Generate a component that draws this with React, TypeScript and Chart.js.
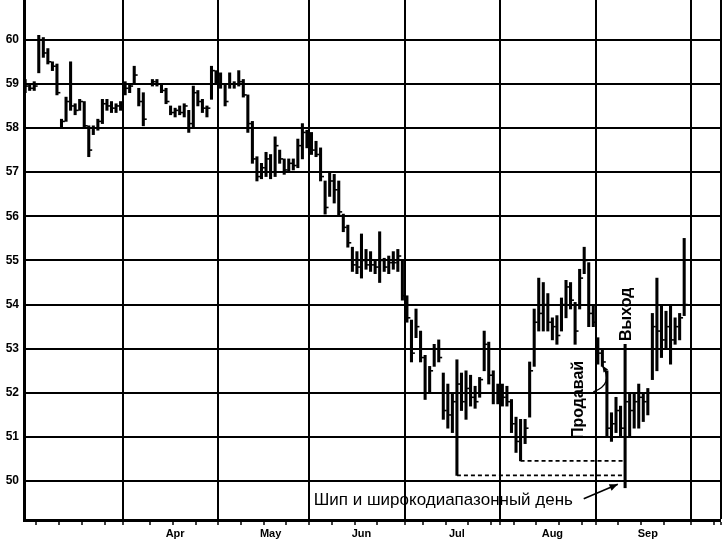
import React, { useEffect, useRef } from 'react';
import { Chart, registerables } from 'chart.js';
Chart.register(...registerables);

// Daily high / low / close (trading-day index = array index; null = no trading)
const highs: (number | null)[] = [
  59.1, 59.0, 59.05, 60.1, 60.05, 59.8, 59.5, 59.45, 58.2, 58.7,
  59.5, 58.55, 58.65, 58.6, 58.05, 58.05, 58.2, 58.65, 58.65, 58.6,
  58.55, 58.6, 59.05, 59.0, 59.4, 58.9, 58.8, null, 59.1, 59.1,
  59.0, 58.9, 58.5, 58.45, 58.5, 58.55, 58.4, 58.95, 58.85, 58.65,
  58.5, 59.4, 59.3, 59.25, 59.0, 59.25, 59.05, 59.3, 59.1, 58.75,
  58.15, 57.35, 57.2, 57.45, 57.4, 57.8, 57.5, 57.3, 57.3, 57.3,
  57.75, 58.1, 57.95, 57.9, 57.7, 57.55, 56.8, 57.0, 56.95, 56.8,
  56.05, 55.8, 55.3, 55.2, 55.6, 55.25, 55.2, 55.0, 55.65, 55.05,
  55.1, 55.2, 55.25, 55.0, 54.2, 53.65, 53.9, 53.4, 52.85, 52.6,
  53.1, 53.2, 52.45, 52.2, 52.0, 52.75, 52.45, 52.5, 52.4, 52.15,
  52.35, 53.4, 53.15, 52.5, 52.2, 52.2, 52.15, 51.85, 51.45, 51.4,
  51.4, 52.7, 53.9, 54.6, 54.5, 54.25, 53.7, 53.75, 54.15, 54.55,
  54.5, 54.05, 54.8, 55.3, 54.95, 54.0, 53.25, 53.0, 52.5, 51.55,
  51.9, 51.7, 53.1, 52.0, 52.0, 52.2, 52.0, 52.1, 53.8, 54.6,
  54.0, 53.85, 54.0, 53.7, 53.8, 55.5,
];
const lows: (number | null)[] = [
  58.8, 58.85, 58.85, 59.25, 59.6, 59.45, 59.3, 58.75, 58.0, 58.15,
  58.4, 58.3, 58.4, 58.0, 57.35, 57.85, 57.95, 58.1, 58.4, 58.35,
  58.35, 58.4, 58.75, 58.8, 59.0, 58.5, 58.05, null, 58.95, 58.95,
  58.8, 58.55, 58.3, 58.25, 58.3, 58.25, 57.9, 58.0, 58.5, 58.35,
  58.25, 58.65, 59.0, 58.9, 58.5, 58.9, 58.9, 58.95, 58.7, 57.9,
  57.2, 56.8, 56.85, 56.9, 56.85, 56.9, 57.2, 56.95, 57.0, 57.05,
  57.1, 57.3, 57.55, 57.4, 57.35, 56.8, 56.05, 56.45, 56.3, 56.0,
  55.65, 55.3, 54.75, 54.7, 54.6, 54.8, 54.75, 54.7, 54.5, 54.75,
  54.7, 54.8, 54.75, 54.1, 53.6, 52.7, 53.25, 52.7, 51.85, 52.0,
  52.6, 52.7, 51.4, 51.2, 51.1, 50.13, 51.6, 51.4, 51.7, 51.65,
  51.9, 52.5, 52.2, 51.75, 51.75, 51.7, 51.7, 51.1, 50.65, 50.46,
  50.85, 51.45, 52.6, 53.4, 53.4, 53.4, 53.2, 53.1, 53.4, 53.7,
  53.9, 53.1, 53.9, 54.7, 53.5, 53.5, 52.65, 52.6, 51.0, 50.9,
  51.1, 51.0, 49.85, 51.0, 51.2, 51.2, 51.35, 51.5, 52.3, 52.5,
  52.8, 53.0, 52.65, 53.1, 53.2, 53.75,
];
const closes: (number | null)[] = [
  58.95, 58.9, 58.95, 60.0, 59.7, 59.5, 59.4, 58.8, 58.15, 58.6,
  58.5, 58.4, 58.6, 58.05, 57.5, 58.0, 58.15, 58.55, 58.5, 58.45,
  58.5, 58.5, 58.9, 58.95, 59.2, 58.6, 58.2, null, 59.05, 59.0,
  58.85, 58.6, 58.35, 58.4, 58.35, 58.5, 58.1, 58.8, 58.6, 58.45,
  58.45, 59.3, 59.2, 59.0, 58.6, 59.0, 59.0, 59.05, 58.75, 58.1,
  57.3, 56.9, 57.1, 57.3, 57.0, 57.6, 57.3, 57.05, 57.2, 57.15,
  57.6, 57.9, 57.8, 57.5, 57.4, 56.9, 56.2, 56.8, 56.6, 56.1,
  55.75, 55.4, 54.9, 54.85, 55.0, 54.9, 54.9, 54.85, 55.0, 54.85,
  54.95, 54.95, 55.1, 54.2, 53.7, 52.9, 53.5, 52.8, 52.0, 52.5,
  53.0, 52.8, 51.6, 51.5, 51.8, 52.2, 51.8, 52.1, 51.9, 51.8,
  52.3, 53.1, 52.4, 52.0, 52.0, 51.9, 51.8, 51.3, 50.9, 51.0,
  51.2, 52.5, 53.6, 53.8, 54.0, 53.6, 53.5, 53.3, 54.0, 54.4,
  54.1, 53.4, 54.6, 55.0, 53.8, 53.6, 52.9, 52.7, 51.2, 51.3,
  51.6, 51.2, 51.8, 51.6, 51.8, 51.9, 51.8, 52.0, 53.5, 53.4,
  53.2, 53.5, 53.2, 53.5, 53.7, 54.0,
];

// Axis definitions
const monthStarts = [22, 43, 63, 84, 105, 126, 147]; // first trading day of Apr..Oct
const monthLabels = ['Apr', 'May', 'Jun', 'Jul', 'Aug', 'Sep'];
const weekTicks = [2.5, 7.5, 12.5, 17.5, 27.5, 32.5, 37.5, 47.5, 52.5, 57.5, 67.5, 72.5, 77.5,
  87.5, 92.5, 97.5, 102.5, 107.5, 112.5, 117.5, 122.5, 130.5, 135.5, 140.5, 151.5];
const yTicks = [50, 51, 52, 53, 54, 55, 56, 57, 58, 59, 60];
const X_MIN = -0.25;
const X_MAX = 153.1;
const Y_MIN = 49.12;
const Y_MAX = 60.9;

// Annotation content
const spikeDays = [95, 109];
const signalDay = 132;
const sellDay = 121.7;
const noteText = 'Шип и широкодиапазонный день';
const sellText = 'Продавай';
const exitText = 'Выход';

const FONT = '"Liberation Sans", Arial, Helvetica, sans-serif';

export default function App() {
  const ref = useRef<HTMLCanvasElement>(null);

  useEffect(() => {
    if (!ref.current) return;

    const barData: any[] = [];
    const closeData: any[] = [];
    highs.forEach((h, i) => {
      const l = lows[i];
      const c = closes[i];
      if (h == null || l == null) return;
      barData.push({ x: i, y: [l, h] });
      if (c != null) closeData.push({ x: i + 0.38, y: c });
    });

    const dashSets = spikeDays.map((d) => ({
      type: 'line' as const,
      data: [
        { x: d, y: lows[d] as number },
        { x: signalDay, y: lows[d] as number },
      ],
      borderColor: '#000',
      borderWidth: 1.6,
      borderDash: [4, 3],
      pointRadius: 0,
      fill: false,
      order: 3,
    }));

    const tickType = new Map<number, string>();
    const labelMap = new Map<number, string>();
    weekTicks.forEach((v) => tickType.set(v, 'm'));
    monthStarts.forEach((s) => tickType.set(s - 0.5, 'b'));
    monthLabels.forEach((lab, i) => {
      const v = monthStarts[i] + 11;
      tickType.set(v, 'l');
      labelMap.set(v, lab);
    });
    tickType.set(X_MAX, 'b');
    const xTickValues = Array.from(tickType.keys()).sort((a, b) => a - b);

    const typeOf = (ctx: any) => tickType.get(ctx.tick?.value) || 'l';

    const annotPlugin = {
      id: 'annot',
      afterDatasetsDraw(chart: any) {
        const { ctx, scales } = chart;
        const X = (d: number) => scales.x.getPixelForValue(d);
        const Y = (p: number) => scales.y.getPixelForValue(p);
        ctx.save();
        ctx.fillStyle = '#000';
        ctx.strokeStyle = '#000';

        // note text
        ctx.font = `17px ${FONT}`;
        ctx.textAlign = 'left';
        ctx.textBaseline = 'middle';
        ctx.fillText(noteText, X(63.5), Y(49.57));

        const arrowHead = (x1: number, y1: number, x2: number, y2: number, size: number) => {
          const a = Math.atan2(y2 - y1, x2 - x1);
          ctx.beginPath();
          ctx.moveTo(x2, y2);
          ctx.lineTo(x2 - size * Math.cos(a - 0.4), y2 - size * Math.sin(a - 0.4));
          ctx.lineTo(x2 - size * Math.cos(a + 0.4), y2 - size * Math.sin(a + 0.4));
          ctx.closePath();
          ctx.fill();
        };

        // straight arrow to the spike day
        const ax1 = X(122.9), ay1 = Y(49.6), ax2 = X(130.4), ay2 = Y(49.93);
        ctx.lineWidth = 1.6;
        ctx.beginPath();
        ctx.moveTo(ax1, ay1);
        ctx.lineTo(ax2, ay2);
        ctx.stroke();
        arrowHead(ax1, ay1, ax2, ay2, 9);

        // rotated labels
        ctx.font = `bold 16px ${FONT}`;
        ctx.textAlign = 'center';
        ctx.textBaseline = 'middle';
        ctx.save();
        ctx.translate(X(sellDay), Y(51.84));
        ctx.rotate(-Math.PI / 2);
        ctx.fillText(sellText, 0, 0);
        ctx.restore();
        ctx.save();
        ctx.translate(X(signalDay + 0.3), Y(53.78));
        ctx.rotate(-Math.PI / 2);
        ctx.fillText(exitText, 0, 0);
        ctx.restore();

        // curved arrow from sell label
        const cx1 = X(125.0), cy1 = Y(52.02);
        const cqx = X(129.6), cqy = Y(52.2);
        const cx2 = X(127.0), cy2 = Y(52.62);
        ctx.lineWidth = 1.4;
        ctx.beginPath();
        ctx.moveTo(cx1, cy1);
        ctx.quadraticCurveTo(cqx, cqy, cx2, cy2);
        ctx.stroke();
        arrowHead(cqx, cqy, cx2, cy2, 7);
        ctx.restore();
      },
    };

    const chart = new Chart(ref.current, {
      type: 'bar',
      data: {
        datasets: [
          {
            type: 'bar',
            data: barData,
            backgroundColor: '#000',
            borderWidth: 0,
            barThickness: 2.4,
            order: 2,
          } as any,
          {
            type: 'line',
            data: closeData,
            showLine: false,
            pointStyle: 'line',
            pointRadius: 1.7,
            pointBorderWidth: 1.6,
            pointBorderColor: '#000',
            pointBackgroundColor: '#000',
            order: 1,
          } as any,
          ...dashSets,
        ],
      },
      options: {
        animation: false,
        responsive: false,
        maintainAspectRatio: false,
        events: [],
        layout: { autoPadding: false, padding: { left: 0, right: 2, top: 0, bottom: 0 } },
        plugins: { legend: { display: false }, tooltip: { enabled: false } },
        scales: {
          x: {
            type: 'linear',
            min: X_MIN,
            max: X_MAX,
            offset: false,
            afterBuildTicks: (scale: any) => {
              scale.ticks = xTickValues.map((v) => ({ value: v }));
            },
            afterFit: (scale: any) => {
              scale.height = 25;
              scale.paddingLeft = 0;
              scale.paddingRight = 0;
            },
            border: { display: true, color: '#000', width: 3 },
            grid: {
              offset: false,
              drawOnChartArea: true,
              drawTicks: true,
              tickLength: 5,
              color: (ctx: any) => (typeOf(ctx) === 'b' ? '#000' : 'rgba(0,0,0,0)'),
              lineWidth: (ctx: any) => (typeOf(ctx) === 'b' ? 2 : 0),
              tickColor: (ctx: any) => (typeOf(ctx) === 'l' ? 'rgba(0,0,0,0)' : '#000'),
              tickWidth: 1.5,
            },
            ticks: {
              autoSkip: false,
              maxRotation: 0,
              minRotation: 0,
              padding: 2,
              color: '#000',
              font: { family: FONT, size: 11, weight: 'bold' },
              callback: (v: any) => labelMap.get(Number(v)) || '',
            },
          },
          y: {
            type: 'linear',
            min: Y_MIN,
            max: Y_MAX,
            afterBuildTicks: (scale: any) => {
              scale.ticks = yTicks.map((v) => ({ value: v }));
            },
            afterFit: (scale: any) => {
              scale.width = 24;
              scale.paddingTop = 0;
              scale.paddingBottom = 0;
            },
            border: { display: true, color: '#000', width: 3 },
            grid: {
              offset: false,
              color: '#000',
              lineWidth: 2,
              drawTicks: false,
            },
            ticks: {
              padding: 5,
              color: '#000',
              font: { family: FONT, size: 12, weight: 'bold' },
              callback: (v: any) => String(v),
            },
          },
        },
      } as any,
      plugins: [annotPlugin],
    });

    return () => chart.destroy();
  }, []);

  return (
    <div style={{ position: 'absolute', left: 0, top: 0, width: 723, height: 545, background: '#fff' }}>
      <canvas ref={ref} width={723} height={545} style={{ display: 'block', width: 723, height: 545 }} />
    </div>
  );
}
